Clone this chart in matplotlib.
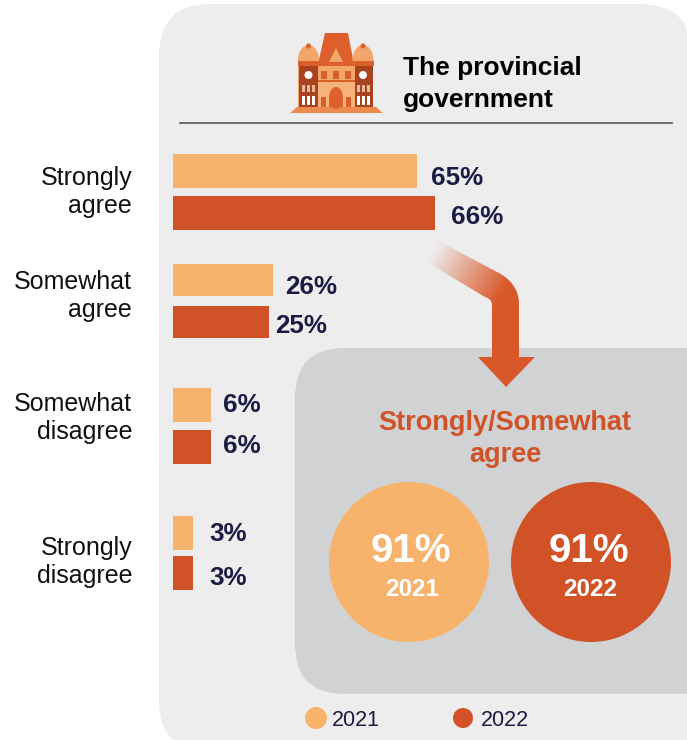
import numpy as np
import matplotlib
matplotlib.use('Agg')
import matplotlib.pyplot as plt
from matplotlib.patches import FancyBboxPatch, Circle, Polygon, PathPatch, Rectangle, Ellipse
from matplotlib.path import Path

plt.rcParams['font.family'] = ['Liberation Sans', 'DejaVu Sans']

categories = ['Strongly\nagree', 'Somewhat\nagree', 'Somewhat\ndisagree', 'Strongly\ndisagree']
# bar lengths as drawn, they are not quite in step with the printed labels
bars_2021 = [61.5, 25.2, 9.6, 5.0]
bars_2022 = [66.0, 24.2, 9.6, 5.0]
labels_2021 = ['65%', '26%', '6%', '3%']
labels_2022 = ['66%', '25%', '6%', '3%']
years = ['2021', '2022']
totals = ['91%', '91%']

LIGHT = '#F7B36B'
DARK = '#D05226'
NAVY = '#1B1B45'
PANEL = '#EDEDED'
GREY = '#D1D2D4'
W, H = 687, 740

fig = plt.figure(figsize=(W / 100, H / 100), dpi=100)
ax = fig.add_axes([0, 0, 1, 1])
ax.set_xlim(0, W)
ax.set_ylim(H, 0)
ax.axis('off')

ax.add_patch(FancyBboxPatch((159, 4), 600, 748, boxstyle='round,pad=0,rounding_size=52',
                            fc=PANEL, ec='none', zorder=1))
# right corner of the panel stops at the figure edge
top_right = Path([(640, 4), (668, 4), (687, 18), (687, 34), (700, 34), (700, 0), (640, 0), (640, 4)],
                 [Path.MOVETO, Path.CURVE4, Path.CURVE4, Path.CURVE4, Path.LINETO, Path.LINETO, Path.LINETO, Path.CLOSEPOLY])
ax.add_patch(PathPatch(top_right, fc='white', ec='none', zorder=1.5))

ax.add_patch(FancyBboxPatch((295, 348), 500, 346, boxstyle='round,pad=0,rounding_size=50',
                            fc=GREY, ec='none', zorder=2))
ax.plot([180, 672], [123, 123], color='#55565A', lw=1.2, zorder=3)

# building icon
def poly(pts, c):
    ax.add_patch(Polygon(pts, closed=True, fc=c, ec='none', zorder=4))

MID = '#F2A66B'
RUST = '#DD5F2C'
BROWN = '#A9431F'
poly([(290, 113), (383, 113), (376, 107), (297, 107)], '#EE8A4E')
poly([(318, 64), (325, 33), (348, 33), (354, 64)], RUST)
for x0 in (308.5, 363):
    ax.add_patch(Ellipse((x0, 60), 21, 30, fc=MID, ec='none', zorder=4))
    ax.add_patch(Circle((x0, 46), 2.5, fc=RUST, ec='none', zorder=4))
poly([(298, 107), (373, 107), (373, 62), (298, 62)], MID)
poly([(299, 107), (318, 107), (318, 66), (299, 66)], BROWN)
poly([(355, 107), (373, 107), (373, 66), (355, 66)], BROWN)
poly([(317, 66), (356, 66), (356, 62), (317, 62)], RUST)
for x0 in (308.5, 363):
    poly([(x0 - 11, 66), (x0 + 11, 66), (x0 + 11, 61), (x0 - 11, 61)], RUST)
    ax.add_patch(Circle((x0, 75), 4, fc='white', ec='none', zorder=5))
    for dx in (-5, 0, 5):
        poly([(x0 + dx - 1.5, 105), (x0 + dx + 1.5, 105), (x0 + dx + 1.5, 96), (x0 + dx - 1.5, 96)], 'white')
        poly([(x0 + dx - 1.5, 92), (x0 + dx + 1.5, 92), (x0 + dx + 1.5, 85), (x0 + dx - 1.5, 85)], '#E8B9A0')
poly([(318, 107), (355, 107), (355, 82), (318, 82)], '#F5B27A')
poly([(318, 82), (355, 82), (355, 80), (318, 80)], RUST)
poly([(329, 62), (336, 48), (343, 62)], MID)
for x0 in (324, 336, 348):
    poly([(x0 - 3, 79), (x0 + 3, 79), (x0 + 3, 71), (x0 - 3, 71)], RUST)
ax.add_patch(Ellipse((336, 98), 14, 22, fc=RUST, ec='none', zorder=5))
ax.add_patch(Rectangle((329, 98), 14, 9, fc=RUST, ec='none', zorder=5))
poly([(321, 107), (326, 107), (326, 97), (321, 97)], RUST)
poly([(346, 107), (351, 107), (351, 97), (346, 97)], RUST)

ax.text(403, 68, 'The provincial', fontsize=19, fontweight='bold', color='black', va='center', zorder=5)
ax.text(403, 100, 'government', fontsize=19, fontweight='bold', color='black', va='center', zorder=5)

# bars, in their own axes so the length comes from the value scale
bar_ax = fig.add_axes([173 / W, 0, 262 / W, 1])
bar_ax.set_xlim(0, 66)
bar_ax.set_ylim(H, 0)
bar_ax.axis('off')
bar_ax.patch.set_alpha(0)
centers_2021 = [171, 280, 405, 533]
centers_2022 = [213, 322, 447, 573]
heights_2021 = [34, 32, 34, 34]
heights_2022 = [34, 32, 34, 34]
bar_ax.barh(centers_2021, bars_2021, height=heights_2021, color=LIGHT, zorder=3)
bar_ax.barh(centers_2022, bars_2022, height=heights_2022, color=DARK, zorder=3)

label_x_2021 = [431, 285, 223, 209]
label_x_2022 = [451, 275, 223, 209]
label_y_2021 = [178, 287, 405, 534]
label_y_2022 = [217, 326, 446, 578]
for i in range(4):
    ax.text(label_x_2021[i], label_y_2021[i], labels_2021[i], fontsize=18.7, fontweight='bold',
            color=NAVY, va='center', zorder=5)
    ax.text(label_x_2022[i], label_y_2022[i], labels_2022[i], fontsize=18.7, fontweight='bold',
            color=NAVY, va='center', zorder=5)

cat_y = [192, 296, 418, 562]
for c, y in zip(categories, cat_y):
    ax.text(132, y, c, fontsize=18, color='#111111', ha='right', va='center', multialignment='right',
            linespacing=1.22, zorder=5)

# fading arrow: gradient image clipped to the arrow outline
verts = [(423, 260), (433, 238), (497, 272), (510, 278), (519, 290), (519, 303), (519, 357),
         (535, 357), (506, 387), (478, 357), (492, 357), (492, 305), (492, 301), (489, 298), (485, 297), (423, 260)]
codes = [Path.MOVETO, Path.LINETO, Path.LINETO, Path.CURVE4, Path.CURVE4, Path.CURVE4, Path.LINETO,
         Path.LINETO, Path.LINETO, Path.LINETO, Path.LINETO, Path.LINETO, Path.CURVE4, Path.CURVE4, Path.CURVE4, Path.CLOSEPOLY]
arrow = PathPatch(Path(verts, codes), fc='none', ec='none', transform=ax.transData)
ax.add_patch(arrow)
xx, yy = np.meshgrid(np.arange(415, 540), np.arange(230, 392))
t = ((xx - 436) * 0.86 + (yy - 245) * 0.5) / 80
rgba = np.zeros(xx.shape + (4,))
rgba[..., :3] = matplotlib.colors.to_rgb('#D9582A')
rgba[..., 3] = np.clip(t, 0, 1)
im = ax.imshow(rgba, extent=(415, 540, 392, 230), aspect='auto', zorder=4, interpolation='bilinear')
im.set_clip_path(arrow)
ax.set_xlim(0, W)
ax.set_ylim(H, 0)

ax.text(505, 423, 'Strongly/Somewhat', fontsize=19.5, fontweight='bold', color=DARK, ha='center', va='center', zorder=5)
ax.text(505, 455, 'agree', fontsize=19.5, fontweight='bold', color=DARK, ha='center', va='center', zorder=5)

circle_x = [409, 591]
total_x = [411, 588.5]
year_x = [412, 590.5]
circle_c = [LIGHT, DARK]
for i in range(2):
    ax.add_patch(Circle((circle_x[i], 562), 80, fc=circle_c[i], ec='none', zorder=4))
    ax.text(total_x[i], 551, totals[i], fontsize=29, fontweight='bold', color='white', ha='center', va='center', zorder=5)
    ax.text(year_x[i], 589, years[i], fontsize=17.5, fontweight='bold', color='white', ha='center', va='center', zorder=5)

ax.add_patch(Circle((316, 718), 11, fc=LIGHT, ec='none', zorder=4))
ax.add_patch(Circle((463, 718), 10, fc=DARK, ec='none', zorder=4))
ax.text(332, 721, years[0], fontsize=15.5, color=NAVY, va='center', zorder=5)
ax.text(481, 721, years[1], fontsize=15.5, color=NAVY, va='center', zorder=5)

fig.savefig('out.png', dpi=100)
